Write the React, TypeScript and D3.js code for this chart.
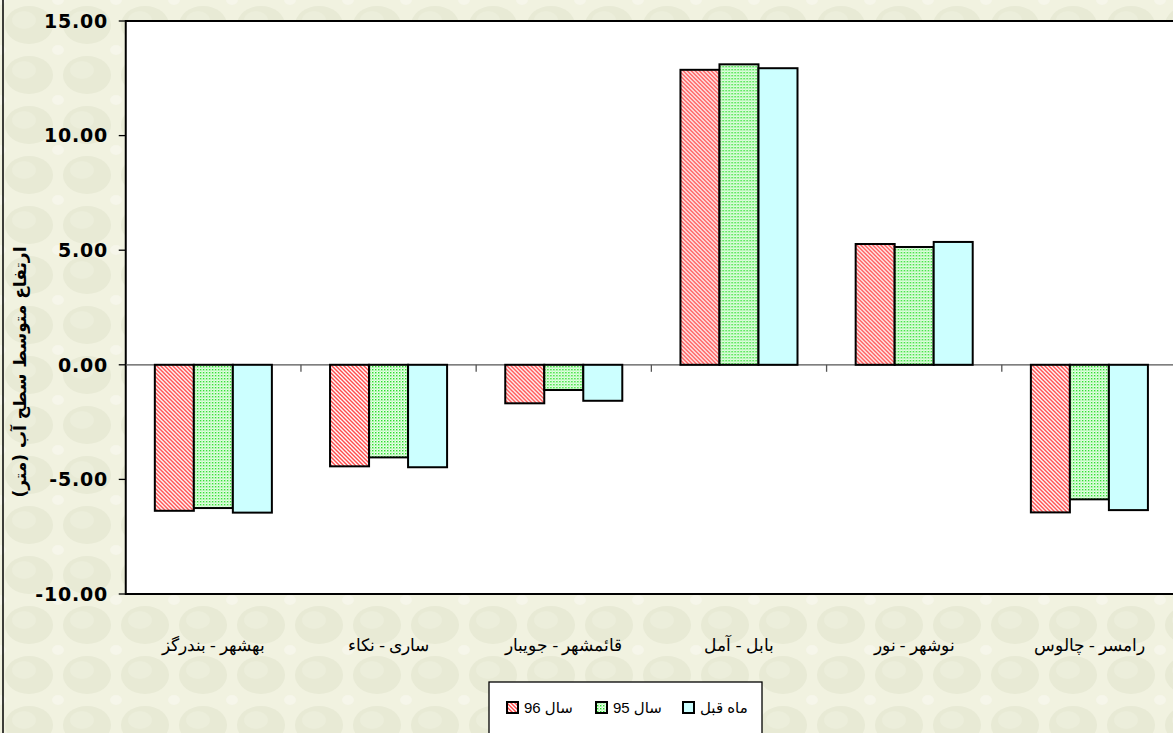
import * as React from "react";
import * as d3 from "d3";

const categories = [
  "بهشهر - بندرگز",
  "ساری - نکاء",
  "قائمشهر - جویبار",
  "بابل - آمل",
  "نوشهر - نور",
  "رامسر - چالوس",
];
const seriesNames = ["سال 96", "سال 95", "ماه قبل"];
const year96 = [-6.37, -4.43, -1.68, 12.87, 5.27, -6.44];
const year95 = [-6.25, -4.04, -1.1, 13.11, 5.14, -5.87];
const lastMonth = [-6.45, -4.47, -1.57, 12.94, 5.36, -6.34];
const yTicks = [-10, -5, 0, 5, 10, 15];
const yTitle = "ارتفاع متوسط سطح آب (متر)";

const W = 1173;
const H = 733;
const plot = { left: 125.75, right: 1177, top: 21, bottom: 594 };
const fills = ["url(#hatchRed)", "url(#dotGreen)", "#ccffff"];

export default function App() {
  const seriesValues = [year96, year95, lastMonth];

  const x0 = d3
    .scaleBand<string>()
    .domain(categories)
    .range([plot.left, plot.right])
    .paddingInner(0.332)
    .paddingOuter(0.166);
  const x1 = d3
    .scaleBand<number>()
    .domain([0, 1, 2])
    .range([0, x0.bandwidth()]);
  const y = d3.scaleLinear().domain([-10, 15]).range([plot.bottom, plot.top]);

  const step = x0.step();
  const boundaries = d3.range(1, categories.length).map((i) => plot.left + i * step);

  return (
    <svg
      width={W}
      height={H}
      style={{ position: "absolute", left: 0, top: 0, display: "block" }}
    >
      <defs>
        <pattern id="bg" width={58} height={50} patternUnits="userSpaceOnUse">
          <rect width={58} height={50} fill="#f1f2e0" />
          <ellipse cx={29} cy={25} rx={24} ry={19} fill="#e8ead5" />
          <ellipse cx={24} cy={20} rx={12} ry={9} fill="#eceedb" />
          <ellipse cx={0} cy={0} rx={6} ry={5} fill="#f6f6ea" />
          <ellipse cx={58} cy={0} rx={6} ry={5} fill="#f6f6ea" />
          <ellipse cx={0} cy={50} rx={6} ry={5} fill="#f6f6ea" />
          <ellipse cx={58} cy={50} rx={6} ry={5} fill="#f6f6ea" />
        </pattern>
        <pattern id="hatchRed" width={4} height={4} patternUnits="userSpaceOnUse">
          <rect width={4} height={4} fill="#ffffff" />
          <path d="M-1,-1 L5,5 M-1,3 L1,5 M3,-1 L5,1" stroke="#ff4848" strokeWidth={1.4} />
        </pattern>
        <pattern id="dotGreen" width={3} height={3} patternUnits="userSpaceOnUse">
          <rect width={3} height={3} fill="#ecffec" />
          <rect x={0} y={0} width={1.4} height={1.4} fill="#22dd22" />
          <rect x={1.5} y={1.5} width={1} height={1} fill="#77ee77" />
        </pattern>
      </defs>

      <rect width={W} height={H} fill="url(#bg)" />
      <line x1={3} x2={3} y1={0} y2={H} stroke="#000" strokeWidth={1.5} />

      {/* plot area */}
      <rect
        x={plot.left}
        y={plot.top}
        width={plot.right - plot.left}
        height={plot.bottom - plot.top}
        fill="#ffffff"
        stroke="#000"
        strokeWidth={2}
      />

      {/* zero line + category ticks */}
      <line x1={plot.left} x2={plot.right} y1={y(0)} y2={y(0)} stroke="#555" strokeWidth={1.3} />
      {boundaries.map((bx) => (
        <line key={bx} x1={bx} x2={bx} y1={y(0)} y2={y(0) + 7} stroke="#555" strokeWidth={1.3} />
      ))}

      {/* bars */}
      {categories.map((c, ci) => (
        <g key={c} transform={`translate(${x0(c)},0)`}>
          {seriesValues.map((vals, si) => {
            const v = vals[ci];
            const top = Math.min(y(v), y(0));
            const h = Math.abs(y(v) - y(0));
            return (
              <rect
                key={si}
                x={x1(si)}
                y={top}
                width={x1.bandwidth()}
                height={h}
                fill={fills[si]}
                stroke="#000"
                strokeWidth={2}
              />
            );
          })}
        </g>
      ))}

      {/* y axis */}
      {yTicks.map((t) => (
        <g key={t}>
          <line x1={plot.left - 7} x2={plot.left} y1={y(t)} y2={y(t)} stroke="#000" strokeWidth={1.3} />
          <text
            x={108}
            y={y(t)}
            dy="0.36em"
            textAnchor="end"
            fontFamily="'DejaVu Sans', Verdana, sans-serif"
            fontWeight="bold"
            fontSize={19}
            letterSpacing={0.8}
            fill="#000"
          >
            {t.toFixed(2)}
          </text>
        </g>
      ))}

      <text
        transform={`translate(26,${372}) rotate(-90)`}
        textAnchor="middle"
        fontFamily="'DejaVu Sans', Tahoma, sans-serif"
        fontWeight="bold"
        fontSize={17}
        fill="#000"
      >
        {yTitle}
      </text>

      {/* category labels */}
      {categories.map((c) => (
        <text
          key={c}
          x={(x0(c) ?? 0) + x0.bandwidth() / 2}
          y={651}
          textAnchor="middle"
          fontFamily="'Times New Roman', 'Liberation Serif', 'DejaVu Serif', serif"
          fontSize={17}
          fill="#000"
        >
          {c}
        </text>
      ))}

      {/* legend */}
      <rect x={489} y={682} width={273} height={70} fill="#ffffff" stroke="#000" strokeWidth={1.3} />
      {seriesNames.map((n, i) => {
        const lx = [507, 596, 683][i];
        return (
          <g key={n}>
            <rect x={lx} y={702} width={11} height={11} fill={fills[i]} stroke="#000" strokeWidth={2} />
            <text
              x={lx + 17}
              y={713}
              fontFamily="Arial, 'Liberation Sans', 'DejaVu Sans', sans-serif"
              fontSize={15}
              fill="#000"
            >
              {n}
            </text>
          </g>
        );
      })}
    </svg>
  );
}
